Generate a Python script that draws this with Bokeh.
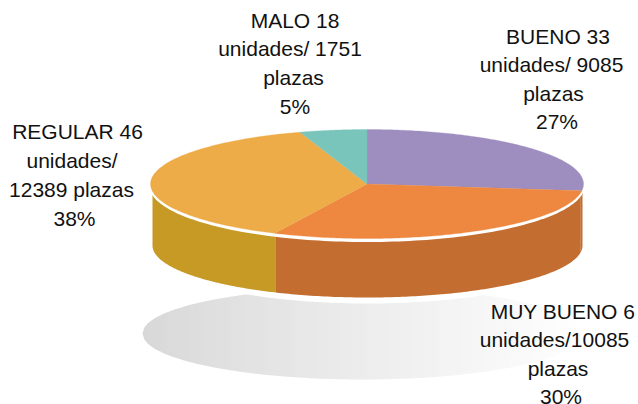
import numpy as np
from bokeh.plotting import figure
from bokeh.models import Range1d
from bokeh.core.properties import value
from bokeh.embed import file_html
from bokeh.resources import INLINE

categories = ["BUENO", "MUY BUENO", "REGULAR", "MALO"]
shares = [27, 30, 38, 5]
units = [33, 6, 46, 18]
seats = [9085, 10085, 12389, 1751]
top_colors = ["#9E8EC0", "#EE873F", "#EDAC47", "#79C4BB"]
side_colors = ["#C36E30", "#C36E30", "#C79A26", "#C79A26"]
label_lines = [
    ["BUENO 33", "unidades/ 9085", "plazas", "27%"],
    ["MUY BUENO 6", "unidades/10085", "plazas", "30%"],
    ["REGULAR 46", "unidades/", "12389 plazas", "38%"],
    ["MALO 18", "unidades/ 1751", "plazas", "5%"],
]
label_x = [[557.5, 551, 553, 556.5], [562.5, 554, 557.5, 560.5], [77, 71.5, 71, 74], [294.5, 289.5, 293, 294.5]]
label_y = [[36, 64, 93, 121], [311, 339, 368, 396], [131, 160, 189, 218], [20, 48, 77, 106]]

CX, CY, RX, RY = 366.5, 183.5, 216.5, 54.5
SCX, SCY, SRX, SRY = 367, 245, 215, 52
W, H = 638, 404

p = figure(width=W, height=H, output_backend="svg", toolbar_location=None,
           x_range=Range1d(0, W), y_range=Range1d(H, 0),
           min_border=0, border_fill_color="white", background_fill_color="white")
p.axis.visible = False
p.grid.visible = False
p.outline_line_color = None


def ell(cx, cy, rx, ry, a0, a1, n=120):
    t = np.radians(np.linspace(a0, a1, n))
    return cx + rx * np.sin(t), cy - ry * np.cos(t)


# Soft shadow: vertical strips that fade from grey to white
SH_CX, SH_CY, SH_RX, SH_RY = 362, 333, 220, 46
edges = np.linspace(SH_CX - SH_RX, SH_CX + SH_RX, 56)
xs_s, ys_s, col_s = [], [], []
for a, b in zip(edges[:-1], edges[1:]):
    xx = np.linspace(a, b + 0.6, 6)
    u = np.clip(1 - ((xx - SH_CX) / SH_RX) ** 2, 0, None) ** 0.5 * SH_RY
    xs_s.append(list(xx) + list(xx[::-1]))
    ys_s.append(list(SH_CY - u) + list((SH_CY + u)[::-1]))
    f = ((a + b) / 2 - (SH_CX - SH_RX)) / (2 * SH_RX)
    g = int(216 + (255 - 216) * f ** 0.9)
    col_s.append(f"#{g:02x}{g:02x}{g:02x}")
p.patches(xs_s, ys_s, fill_color=col_s, line_color=None)

# White halo below the pie that cuts the shadow
hx, hy = ell(SCX, SCY + 2, SRX + 6, SRY + 4, 0, 360, 240)
p.patch(hx, hy, fill_color="white", line_color=None)

# Cumulative angles from the shares
ang = np.cumsum([0] + shares) / sum(shares) * 360

# Side wall, only the front half (90 to 270 degrees)
for i in range(len(shares)):
    a0, a1 = max(ang[i], 90), min(ang[i + 1], 270)
    if a1 <= a0:
        continue
    bx, by = ell(SCX, SCY, SRX, SRY, a0, a1)
    p.patch(list(bx) + list(bx[::-1]), list(by) + [CY] * len(bx),
            fill_color=side_colors[i], line_color=None)

# White rim between the wall and the top
wx, wy = ell(CX, CY + 2, RX + 1, RY + 1.5, 0, 360, 240)
p.patch(wx, wy, fill_color="white", line_color=None)

# Top face
for i in range(len(shares)):
    ex, ey = ell(CX, CY, RX, RY, ang[i], ang[i + 1])
    p.patch([CX] + list(ex), [CY] + list(ey), fill_color=top_colors[i],
            line_color=top_colors[i], line_width=0.3)

# Labels
tx, ty, tt = [], [], []
for lines, xs, ys in zip(label_lines, label_x, label_y):
    for line, x0, y0 in zip(lines, xs, ys):
        tx.append(x0)
        ty.append(y0)
        tt.append(line)
p.text(x=tx, y=ty, text=tt, text_font=value("Liberation Sans"), text_font_size="21px",
       text_color="#111111", text_align="center", text_baseline="middle")

open("out.html", "w").write(file_html(p, INLINE))
